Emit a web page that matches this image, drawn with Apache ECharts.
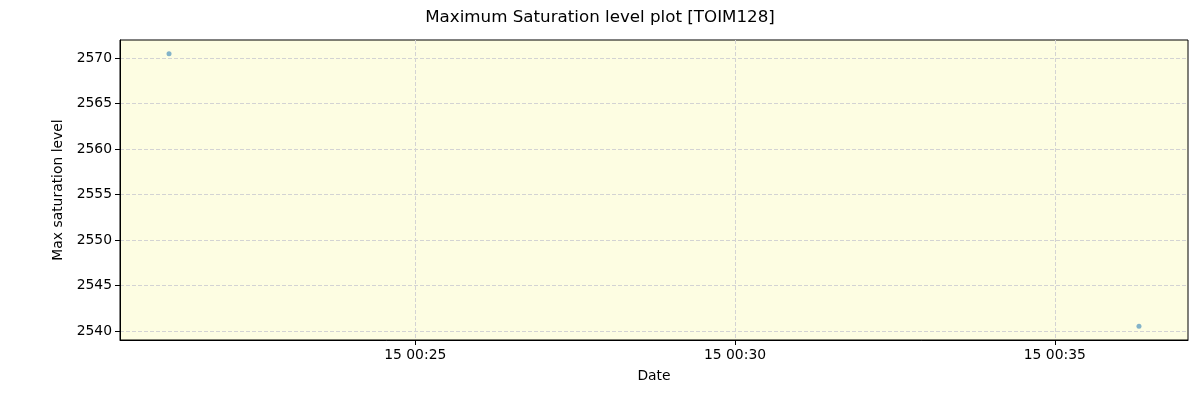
<!DOCTYPE html>
<html>
<head>
<meta charset="utf-8">
<script src="https://cdn.jsdelivr.net/npm/echarts@6/dist/echarts.min.js"></script>
<style>
  html, body { margin: 0; padding: 0; background: #fff; }
  #chart { width: 1200px; height: 400px; }
</style>
</head>
<body>
<div id="chart"></div>
<script>
// readings (UTC times on the 15th)
const times = ['2024-01-15T00:21:09Z', '2024-01-15T00:36:19Z']
const levels = [2570.5, 2540.5]

const xTicks = ['2024-01-15T00:25:00Z', '2024-01-15T00:30:00Z', '2024-01-15T00:35:00Z']
const yTicks = [2540, 2545, 2550, 2555, 2560, 2565, 2570]
const xRange = ['2024-01-15T00:20:23Z', '2024-01-15T00:37:05Z']
const yRange = [2539, 2572]

const ms = s => new Date(s).getTime()
const pad = n => String(n).padStart(2, '0')
const fmtDate = v => {
  let d = new Date(v)
  return pad(d.getUTCDate()) + ' ' + pad(d.getUTCHours()) + ':' + pad(d.getUTCMinutes())
}

let myChart = echarts.init(document.getElementById('chart'))

let tickFont = { fontFamily: 'DejaVu Sans', fontSize: 13.9, color: '#000' }

let option = {
  animation: false,
  title: {
    text: 'Maximum Saturation level plot [TOIM128]',
    left: 'center',
    top: 4,
    textStyle: { fontFamily: 'DejaVu Sans', fontSize: 16.7, fontWeight: 'normal', color: '#000' }
  },
  grid: {
    left: 120,
    right: 12,
    top: 40,
    bottom: 60,
    show: true,
    backgroundColor: '#fdfde2',
    borderColor: '#000',
    borderWidth: 1
  },
  xAxis: {
    type: 'value',
    min: ms(xRange[0]),
    max: ms(xRange[1]),
    name: 'Date',
    nameLocation: 'middle',
    nameGap: 29,
    nameTextStyle: tickFont,
    axisLine: { show: true, lineStyle: { color: '#000' } },
    axisTick: { show: true, length: 5, lineStyle: { color: '#000' }, customValues: xTicks.map(ms) },
    axisLabel: { ...tickFont, margin: 8, customValues: xTicks.map(ms), formatter: fmtDate },
    splitLine: { show: true, lineStyle: { color: '#d3d3d3', type: [4, 2] } }
  },
  yAxis: {
    type: 'value',
    min: yRange[0],
    max: yRange[1],
    name: 'Max saturation level',
    nameLocation: 'middle',
    nameGap: 51,
    nameTextStyle: tickFont,
    axisLine: { show: true, lineStyle: { color: '#000' } },
    axisTick: { show: true, length: 5, lineStyle: { color: '#000' }, customValues: yTicks },
    axisLabel: { ...tickFont, margin: 8, customValues: yTicks, formatter: v => String(v) },
    splitLine: { show: true, lineStyle: { color: '#d3d3d3', type: [4, 2] } }
  },
  series: [
    {
      type: 'scatter',
      symbolSize: 5,
      itemStyle: { color: '#1f77b4', opacity: 0.55 },
      data: times.map((t, i) => [ms(t), levels[i]])
    }
  ]
}

myChart.setOption(option)
</script>
</body>
</html>
